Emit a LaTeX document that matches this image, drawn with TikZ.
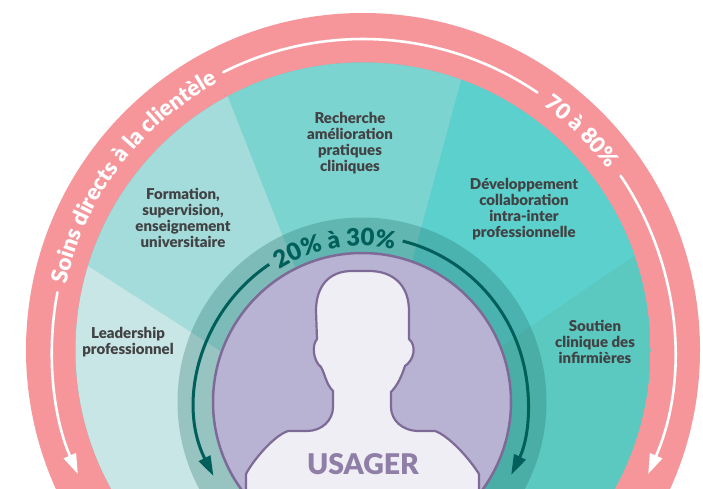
\documentclass[tikz,border=0pt]{standalone}
\usepackage{fontspec}
\setmainfont{Lato}
\newfontfamily\hv{Lato Black}
\usetikzlibrary{arrows.meta,decorations.text}
\definecolor{ringc}{HTML}{F6969B}
\definecolor{secA}{HTML}{C7E6E5}
\definecolor{secB}{HTML}{A3DCDA}
\definecolor{secC}{HTML}{7CD4D1}
\definecolor{secD}{HTML}{5BD0CC}
\definecolor{secE}{HTML}{5CC9C1}
\definecolor{bandc}{RGB}{30,105,100}
\definecolor{purp}{HTML}{B8B3D2}
\definecolor{purpd}{HTML}{7E6A97}
\definecolor{headc}{HTML}{EFEEF4}
\definecolor{tealt}{HTML}{005F5A}
\definecolor{labelc}{HTML}{424244}
\definecolor{usagerc}{HTML}{8F7FA6}
\tikzset{
  x=1pt,y=1pt,
  px/.style={shift={(0,488)},y=-1pt},
  lab/.style={font=\hv\fontsize{15}{16}\selectfont,text=labelc,align=center,inner sep=0pt},
  whitearc/.style={draw=white,line width=2.6pt,line cap=round},
  whitetip/.style={-{Triangle[length=20pt,width=13pt,fill=white]}},
  tealarc/.style={draw=tealt,line width=3pt},
  tealtip/.style={-{Triangle[length=20pt,width=12.5pt,fill=tealt]}}
}
\begin{document}
\begin{tikzpicture}
\clip (0,0) rectangle (703,488);
\fill[white] (0,0) rectangle (703,488);
% outer ring: centre (363,350) px -> (363,138)
\fill[ringc,even odd rule] (363,138) circle[radius=337] (363,138) circle[radius=287];
\begin{scope}
  \clip (363,138) circle[radius=287.5];
  \fill[secE] (363,138) circle[radius=288];
  \begin{scope}[px]
    \fill[secD] (472,40) -- (374,402) -- (362,441) -- (700,211) -- (700,40) -- cycle;
    \fill[secC] (205.6,40) -- (348,402) -- (374,402) -- (472,40) -- cycle;
    \fill[secB] (40,235) -- (205.6,40) -- (348,402) -- (362,442) -- cycle;
    \fill[secA] (40,235) -- (362,442) -- (362,600) -- (40,600) -- cycle;
  \end{scope}
\end{scope}
% inner band and disc: centre (362,402) px -> (362,86)
\fill[bandc,fill opacity=0.28] (362,86) circle[radius=184.5];
\filldraw[fill=purp,draw=purpd,line width=2.5pt] (362,86) circle[radius=149];
% head
\begin{scope}[px]
\filldraw[fill=headc,draw=purpd,line width=2.2pt,line join=round]
  (246,495) -- (246,474)
  .. controls (252,462) and (273,436) .. (288,431)
  -- (307,431)
  .. controls (322,431) and (333,420) .. (333,407)
  -- (333,391)
  .. controls (326,384) and (325,374) .. (321,367)
  .. controls (314,362) and (311,346) .. (317,339)
  -- (316,311)
  .. controls (316,285) and (330,271) .. (352,271)
  -- (369,271)
  .. controls (393,271) and (409,285) .. (409,311)
  -- (409,339)
  .. controls (417,346) and (414,360) .. (405,366)
  .. controls (402,375) and (398,385) .. (391,392)
  -- (391,407)
  .. controls (391,420) and (402,431) .. (419,431)
  -- (435,431)
  .. controls (447,435) and (467,455) .. (479,474)
  -- (479,495) -- cycle;
\node[font=\hv\fontsize{28.5}{28.5}\selectfont,text=usagerc,inner sep=0pt] (usager) at (363,464) {USAGER};
\node[lab] (recherche) at (350,143) {Recherche\\amélioration\\pratiques\\cliniques};
\node[lab] (formation) at (183,218) {Formation,\\supervision,\\enseignement\\universitaire};
\node[lab] (developpement) at (524,209) {Développement\\collaboration\\intra-inter\\professionnelle};
\node[lab] (soutien) at (595,341.5) {Soutien\\clinique des\\infirmières};
\node[lab] (leadership) at (128,342.5) {Leadership\\professionnel};
\end{scope}
% white arcs on the ring
\draw[whitearc] (363,138) ++(116.7:311) arc[start angle=116.7,end angle=55.9,radius=311];
\draw[whitearc,whitetip] (363,138) ++(169.3:311) arc[start angle=169.3,end angle=203.5,radius=311];
\draw[whitearc,whitetip] (363,138) ++(34.1:311) arc[start angle=34.1,end angle=-23.5,radius=311];
% curved texts
\path[decorate,decoration={text along path,text align=center,
  text={|\hv\fontsize{22.5}{22.5}\selectfont\color{white}|Soins directs à la clientèle}}]
  (363,138) ++(169:304) arc[start angle=169,end angle=117,radius=304];
\path[decorate,decoration={text along path,text align=center,
  text={|\hv\fontsize{22}{22}\selectfont\color{white}|70 à 80{\%}}}]
  (363,138) ++(55:304) arc[start angle=55,end angle=35,radius=304];
\path[decorate,decoration={text along path,text align=center,
  text={|\hv\fontsize{24}{24}\selectfont\color{tealt}|20{\%} à 30{\%}}}]
  (362,86) ++(123:156) arc[start angle=123,end angle=77,radius=156];
% teal arrows
\draw[tealarc,tealtip] (362,86) ++(124:166) arc[start angle=124,end angle=206.5,radius=166];
\draw[tealarc,tealtip] (362,86) ++(75.8:166) arc[start angle=75.8,end angle=-26,radius=166];
\end{tikzpicture}
\end{document}
